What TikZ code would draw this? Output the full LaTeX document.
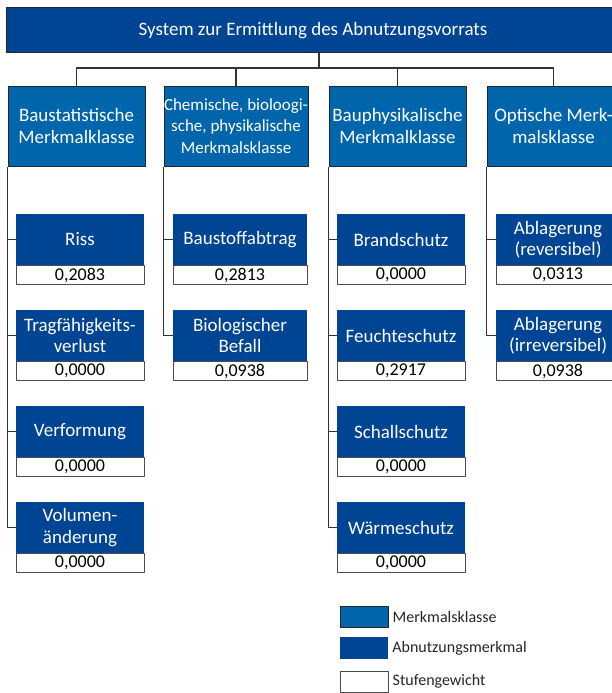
\documentclass[tikz,border=0pt]{standalone}
\usepackage{fontspec}
\setmainfont{Carlito}
\usetikzlibrary{positioning}
\definecolor{dunkelblau}{HTML}{004494}
\definecolor{mittelblau}{HTML}{0065AB}
\definecolor{linie}{HTML}{333333}
\begin{document}
\begin{tikzpicture}[x=1pt,y=-1pt,line join=round,
	klasse/.style={draw=black!85,line width=1pt,fill=mittelblau,text=white,inner sep=0pt,minimum height=80pt,align=center,font=\fontsize{19}{22.5}\selectfont},
	merkmal/.style={fill=dunkelblau,text=white,inner sep=0pt,minimum height=51pt,align=center,font=\fontsize{19}{21.5}\selectfont},
	gewicht/.style={draw=black!70,line width=1pt,fill=white,anchor=north,inner sep=0pt,minimum height=19pt,font=\fontsize{18}{20}\selectfont},
	legende/.style={right=4pt of #1,inner sep=0pt,text=black!85,font=\fontsize{16}{18}\selectfont},
	ast/.style={draw=linie,line width=1.2pt}]
	\clip (0,0) rectangle (612,693);
	% Kopf
	\node[draw=black!85,line width=1pt,fill=dunkelblau,text=white,inner sep=0pt,minimum width=614pt,minimum height=45pt,font=\fontsize{19}{22}\selectfont] (top) at (313,30.5) {System zur Ermittlung des Abnutzungsvorrats};
	\node[klasse,minimum width=137pt] (k1) at (76.5,126) {Baustatistische\\Merkmalklasse};
	\node[klasse,minimum width=144pt,font=\fontsize{17}{21.7}\selectfont] (k2) at (236,126) {Chemische, bioloogi-\\sche, physikalische\\Merkmalsklasse};
	\node[klasse,minimum width=137pt] (k3) at (397.5,126) {Bauphysikalische\\Merkmalklasse};
	\node[klasse,minimum width=133pt] (k4) at (553.5,126) {Optische Merk-\\malsklasse};
	\coordinate (knoten) at (319,68);
	\draw[ast] (top.south -| knoten) -- (knoten)
	(knoten) -| (k1.north) (knoten) -| (k2.north)
	(knoten) -| (k3.north) (knoten) -| (k4.north);
	% Baustatik
	\node[merkmal,minimum width=128pt] (riss) at (80,239.5) {Riss};
	\node[gewicht,minimum width=128pt] (wriss) at (riss.south) {0,2083};
	\node[merkmal,minimum width=128pt] (trag) at (80,335.5) {Tragfähigkeits-\\verlust};
	\node[gewicht,minimum width=128pt] (wtrag) at (trag.south) {0,0000};
	\node[merkmal,minimum width=128pt] (verf) at (80,431.5) {Verformung};
	\node[gewicht,minimum width=128pt] (wverf) at (verf.south) {0,0000};
	\node[merkmal,minimum width=128pt] (vol) at (80,527.5) {Volumen-\\änderung};
	\node[gewicht,minimum width=128pt] (wvol) at (vol.south) {0,0000};
	\draw[ast] (k1.south west) |- (riss.west) (k1.south west) |- (trag.west)
	(k1.south west) |- (verf.west) (k1.south west) |- (vol.west);
	% Chemie, Biologie
	\node[merkmal,minimum width=134pt] (abtrag) at (240,239.5) {Baustoffabtrag};
	\node[gewicht,minimum width=134pt] (wabtrag) at (abtrag.south) {0,2813};
	\node[merkmal,minimum width=134pt] (befall) at (240,335.5) {Biologischer\\Befall};
	\node[gewicht,minimum width=134pt] (wbefall) at (befall.south) {0,0938};
	\draw[ast] (k2.south west) |- (abtrag.west) (k2.south west) |- (befall.west);
	% Bauphysik
	\node[merkmal,minimum width=128pt] (brand) at (401,239.5) {Brandschutz};
	\node[gewicht,minimum width=128pt] (wbrand) at (brand.south) {0,0000};
	\node[merkmal,minimum width=128pt] (feucht) at (401,335.5) {Feuchteschutz};
	\node[gewicht,minimum width=128pt] (wfeucht) at (feucht.south) {0,2917};
	\node[merkmal,minimum width=128pt] (schall) at (401,431.5) {Schallschutz};
	\node[gewicht,minimum width=128pt] (wschall) at (schall.south) {0,0000};
	\node[merkmal,minimum width=128pt] (waerme) at (401,527.5) {Wärmeschutz};
	\node[gewicht,minimum width=128pt] (wwaerme) at (waerme.south) {0,0000};
	\draw[ast] (k3.south west) |- (brand.west) (k3.south west) |- (feucht.west)
	(k3.south west) |- (schall.west) (k3.south west) |- (waerme.west);
	% Optik
	\node[merkmal,minimum width=124pt] (rev) at (558,239.5) {Ablagerung\\(reversibel)};
	\node[gewicht,minimum width=124pt] (wrev) at (rev.south) {0,0313};
	\node[merkmal,minimum width=124pt] (irrev) at (558,335.5) {Ablagerung\\(irreversibel)};
	\node[gewicht,minimum width=124pt] (wirrev) at (irrev.south) {0,0938};
	\draw[ast] (k4.south west) |- (rev.west) (k4.south west) |- (irrev.west);
	% Legende
	\node[klasse,minimum width=48pt,minimum height=21pt] (lk) at (364,616.5) {};
	\node[legende=lk] (tk) {Merkmalsklasse};
	\node[merkmal,minimum width=48pt,minimum height=22pt] (lm) at (364,648) {};
	\node[legende=lm] (tm) {Abnutzungsmerkmal};
	\node[gewicht,anchor=center,minimum width=48pt,minimum height=21pt] (lg) at (364,681.5) {};
	\node[legende=lg] (tg) {Stufengewicht};
\end{tikzpicture}
\end{document}
